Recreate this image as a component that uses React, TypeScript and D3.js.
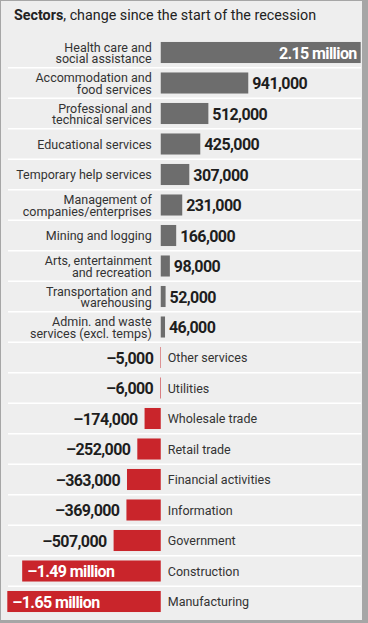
import { useEffect, useRef } from 'react';
import * as d3 from 'd3';

// sector names (\n = line break in the label)
const sectors = [
  'Health care and\nsocial assistance',
  'Accommodation and\nfood services',
  'Professional and\ntechnical services',
  'Educational services',
  'Temporary help services',
  'Management of\ncompanies/enterprises',
  'Mining and logging',
  'Arts, entertainment\nand recreation',
  'Transportation and\nwarehousing',
  'Admin. and waste\nservices (excl. temps)',
  'Other services',
  'Utilities',
  'Wholesale trade',
  'Retail trade',
  'Financial activities',
  'Information',
  'Government',
  'Construction',
  'Manufacturing',
];

// change in jobs since the start of the recession
const changes = [
  2150000, 941000, 512000, 425000, 307000, 231000, 166000, 98000, 52000, 46000,
  -5000, -6000, -174000, -252000, -363000, -369000, -507000, -1490000, -1650000,
];

const titleBold = 'Sectors';
const titleRest = ', change since the start of the recession';

const W = 368;
const H = 623;
const FONT = 'Roboto, "Noto Sans", sans-serif';

function fmt(v: number) {
  const s = Math.abs(v) >= 1e6 ? `${d3.format('.3~')(Math.abs(v) / 1e6)} million` : d3.format(',')(Math.abs(v));
  return (v < 0 ? '–' : '') + s;
}

export default function App() {
  const svgRef = useRef<SVGSVGElement | null>(null);

  useEffect(() => {
    const svg = d3.select(svgRef.current);
    svg.selectAll('*').remove();

    // frame
    svg.append('rect').attr('width', W).attr('height', H).attr('fill', '#a6a6a6');
    svg.append('rect').attr('x', 1).attr('y', 1).attr('width', 361).attr('height', 619).attr('fill', '#eeeeee');

    const title = svg.append('text')
      .attr('x', 14).attr('y', 20)
      .style('font-family', FONT).style('font-size', '14.3px').style('fill', '#222');
    title.append('tspan').style('font-weight', 700).text(titleBold);
    title.append('tspan').text(titleRest);

    const x = d3.scaleLinear().domain([-1650000, 2150000]).range([7.3, 360.7]);
    const y = d3.scaleBand<string>().domain(sectors).range([37.25, 616.75]).paddingInner(0.31).paddingOuter(0.155);
    const step = y.step();
    const x0 = x(0);

    const rows = sectors.map((s, i) => ({ name: s, value: changes[i] }));

    // white separators between rows
    svg.append('g').selectAll('line')
      .data(rows.slice(1))
      .join('line')
      .attr('x1', 8).attr('x2', 361)
      .attr('y1', d => y(d.name)! + y.bandwidth() / 2 - step / 2)
      .attr('y2', d => y(d.name)! + y.bandwidth() / 2 - step / 2)
      .attr('stroke', '#ffffff').attr('stroke-width', 1.6);

    svg.append('g').selectAll('rect')
      .data(rows)
      .join('rect')
      .attr('x', d => Math.min(x(d.value), x0))
      .attr('width', d => Math.abs(x(d.value) - x0))
      .attr('y', d => y(d.name)!)
      .attr('height', y.bandwidth())
      .attr('fill', d => (d.value >= 0 ? '#6d6d6d' : '#c9252b'));

    // category labels
    const cat = svg.append('g').selectAll('text')
      .data(rows)
      .join('text')
      .attr('x', d => (d.value >= 0 ? x0 - 9 : x0 + 7))
      .attr('text-anchor', d => (d.value >= 0 ? 'end' : 'start'))
      .style('font-family', FONT).style('font-size', '12.5px').style('fill', '#333');
    cat.each(function (d) {
      const lines = d.name.split('\n');
      const cy = y(d.name)! + y.bandwidth() / 2;
      d3.select(this).selectAll('tspan')
        .data(lines)
        .join('tspan')
        .attr('x', d.value >= 0 ? x0 - 9 : x0 + 7)
        .attr('y', (_, i) => cy + 4.8 + (i - (lines.length - 1) / 2) * 11.6)
        .text(t => t);
    });

    // value labels
    svg.append('g').selectAll('text')
      .data(rows)
      .join('text')
      .attr('x', d => {
        const inside = Math.abs(d.value) >= 1e6;
        if (d.value >= 0) return inside ? x(d.value) - 4 : x(d.value) + 4;
        return inside ? x(d.value) + 5 : x(d.value) - 7;
      })
      .attr('y', d => y(d.name)! + y.bandwidth() / 2 + 6)
      .attr('text-anchor', d => {
        const inside = Math.abs(d.value) >= 1e6;
        return (d.value >= 0) === inside ? 'end' : 'start';
      })
      .style('font-family', FONT).style('font-size', '16px').style('font-weight', 700)
      .style('letter-spacing', '-0.6px')
      .style('fill', d => (Math.abs(d.value) >= 1e6 ? '#ffffff' : '#1e1e1e'))
      .text(d => fmt(d.value));
  }, []);

  return (
    <div>
      <svg ref={svgRef} width={W} height={H} style={{ position: 'absolute', left: 0, top: 0 }} />
    </div>
  );
}
